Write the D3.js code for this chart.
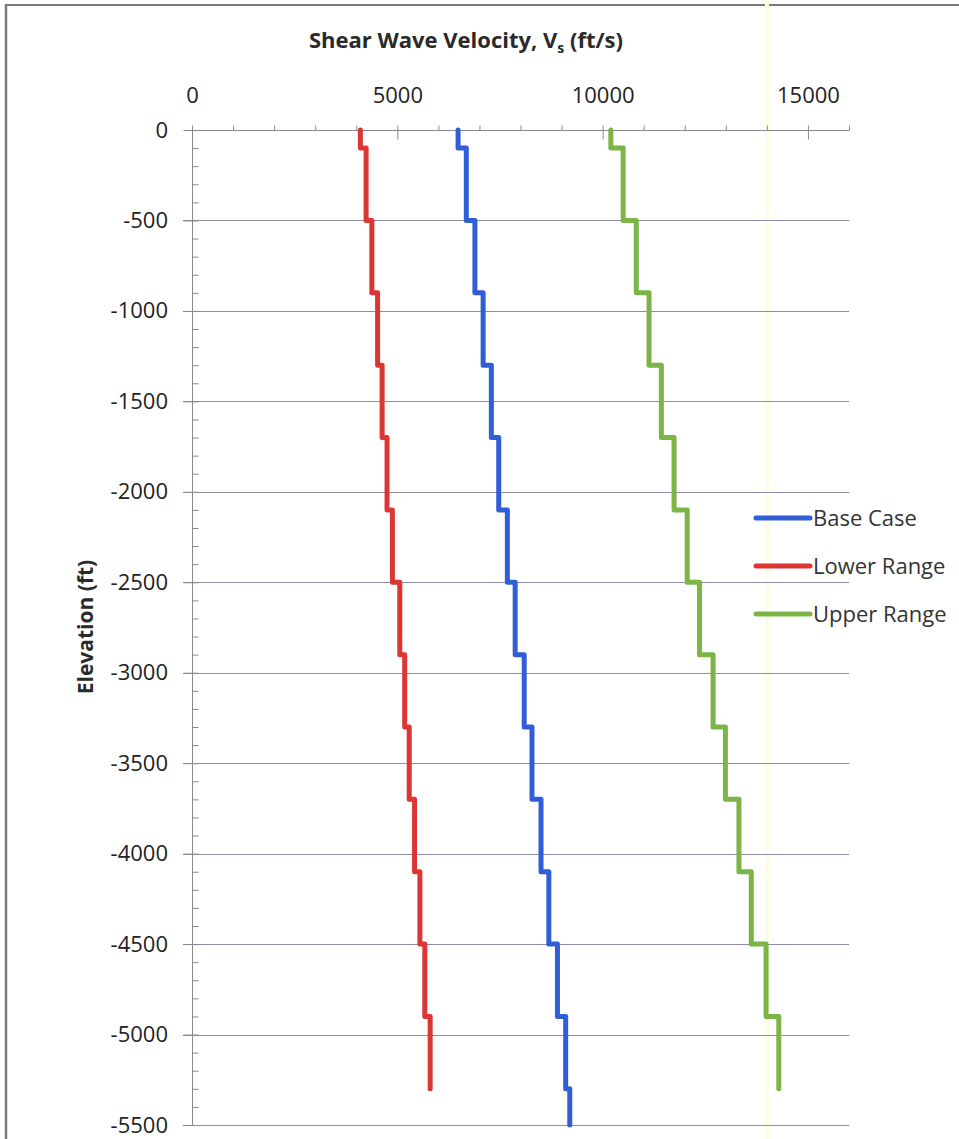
<!DOCTYPE html>
<html>
<head>
<meta charset="utf-8">
<script src="https://cdn.jsdelivr.net/npm/d3@7/dist/d3.min.js"></script>
<style>
  html, body { margin: 0; padding: 0; background: #fff; }
  svg { display: block; }
  text { font-family: "Open Sans", Lato, sans-serif; }
</style>
</head>
<body>
<svg id="chart" width="959" height="1139"></svg>
<script>
// ---- data ----
const layerTops = [0, -100, -500, -900, -1300, -1700, -2100, -2500, -2900, -3300, -3700, -4100, -4500, -4900, -5300];
const baseCase   = [6480, 6680, 6890, 7090, 7290, 7470, 7680, 7870, 8090, 8280, 8500, 8690, 8900, 9100, 9200];
const lowerRange = [4100, 4240, 4380, 4520, 4630, 4750, 4880, 5060, 5180, 5290, 5420, 5550, 5670, 5800];
const upperRange = [10200, 10500, 10820, 11130, 11430, 11740, 12060, 12360, 12690, 12990, 13320, 13620, 13980, 14290];
const baseBottom = -5500;
const rangeBottom = -5300;
const seriesNames = ["Base Case", "Lower Range", "Upper Range"];
const xTickLabels = [0, 5000, 10000, 15000];
const yTickLabels = [0, -500, -1000, -1500, -2000, -2500, -3000, -3500, -4000, -4500, -5000, -5500];

const svg = d3.select("#chart");

// frame of the scanned figure
svg.append("line").attr("x1", 5).attr("x2", 959).attr("y1", 5).attr("y2", 5)
  .attr("stroke", "#7a7a7a").attr("stroke-width", 2);
svg.append("line").attr("x1", 6).attr("x2", 6).attr("y1", 4).attr("y2", 1139)
  .attr("stroke", "#7a7a7a").attr("stroke-width", 2.5);
// faint yellow scan streak
svg.append("rect").attr("x", 765).attr("y", 0).attr("width", 4).attr("height", 1139)
  .attr("fill", "#fdfde6");

const x = d3.scaleLinear().domain([0, 16000]).range([192, 849]);
const y = d3.scaleLinear().domain([0, -5500]).range([130, 1125]);

// horizontal gridlines
svg.append("g").selectAll("line").data(yTickLabels.slice(1)).join("line")
  .attr("x1", 183).attr("x2", 849)
  .attr("y1", d => Math.round(y(d)) + 0.5).attr("y2", d => Math.round(y(d)) + 0.5)
  .attr("stroke", "#8e8ca8").attr("stroke-width", 1);

const axisColor = "#8a8a8a";

// top axis: minor ticks (every 1000) pointing outward
const topMinor = svg.append("g").attr("transform", "translate(0,130.5)")
  .call(d3.axisTop(x).tickValues(d3.range(0, 16001, 1000)).tickSize(5).tickFormat(""));
// top axis: major ticks crossing
const topMajor = svg.append("g").attr("transform", "translate(0,130.5)")
  .call(d3.axisBottom(x).tickValues(xTickLabels).tickSize(9).tickFormat(""));
// top axis labels
const topLabels = svg.append("g").attr("transform", "translate(0,130)")
  .call(d3.axisTop(x).tickValues(xTickLabels).tickSize(0).tickPadding(27).tickFormat(d3.format("d")));
topLabels.select(".domain").remove();

// left axis minor ticks (every 100 ft) pointing inward
const leftMinor = svg.append("g").attr("transform", "translate(192.5,0)")
  .call(d3.axisRight(y).tickValues(d3.range(0, -5501, -100)).tickSize(6).tickFormat(""));
const leftMajor = svg.append("g").attr("transform", "translate(192.5,0)")
  .call(d3.axisLeft(y).tickValues(yTickLabels).tickSize(9).tickFormat(""));
const leftLabels = svg.append("g").attr("transform", "translate(192,0)")
  .call(d3.axisLeft(y).tickValues(yTickLabels).tickSize(0).tickPadding(24).tickFormat(d => String(d)));
leftLabels.select(".domain").remove();

[topMinor, topMajor, leftMinor, leftMajor].forEach(g => {
  g.selectAll("line").attr("stroke", axisColor);
  g.select(".domain").attr("stroke", axisColor);
});
topMinor.select(".domain").attr("d", `M${x(0)},0H${x(16000)}`);
topMajor.select(".domain").remove();
leftMinor.select(".domain").attr("d", `M0,${y(0)}V${y(-5500)}`);
leftMajor.select(".domain").remove();

[topLabels, leftLabels].forEach(g => {
  g.selectAll("text").attr("font-size", 22).attr("fill", "#222")
    .style("font-family", "'Open Sans', sans-serif");
});

// step profiles
function profile(values, bottom) {
  const pts = [];
  values.forEach((v, i) => {
    const top = layerTops[i];
    const bot = i + 1 < values.length ? layerTops[i + 1] : bottom;
    pts.push([v, top], [v, bot]);
  });
  return pts;
}
const line = d3.line().x(d => x(d[0])).y(d => y(d[1]));
const series = [
  { name: seriesNames[0], pts: profile(baseCase, baseBottom), color: "#2f5ed6" },
  { name: seriesNames[1], pts: profile(lowerRange, rangeBottom), color: "#dd3434" },
  { name: seriesNames[2], pts: profile(upperRange, rangeBottom), color: "#7ab546" }
];
svg.append("g").selectAll("path").data(series).join("path")
  .attr("d", d => line(d.pts))
  .attr("fill", "none").attr("stroke", d => d.color)
  .attr("stroke-width", 5).attr("stroke-linejoin", "round").attr("stroke-linecap", "round");

// legend
const legend = svg.append("g");
const lg = legend.selectAll("g").data(series).join("g")
  .attr("transform", (d, i) => `translate(0,${518 + i * 48})`);
lg.append("line").attr("x1", 756).attr("x2", 810).attr("y1", 0).attr("y2", 0)
  .attr("stroke", d => d.color).attr("stroke-width", 5).attr("stroke-linecap", "round");
lg.append("text").attr("x", 813).attr("y", 0).attr("dy", "0.35em")
  .attr("font-size", 22).attr("fill", "#333").text(d => d.name);

// titles
const title = svg.append("text").attr("x", 466).attr("y", 48)
  .attr("text-anchor", "middle").attr("font-size", 22).attr("font-weight", "bold").attr("fill", "#2a2a2a");
title.append("tspan").text("Shear Wave Velocity, V");
title.append("tspan").attr("font-size", 14).attr("dy", 5).text("s");
title.append("tspan").attr("dy", -5).text(" (ft/s)");

svg.append("text").attr("transform", "translate(93,627) rotate(-90)")
  .attr("text-anchor", "middle").attr("font-size", 21).attr("font-weight", "bold").attr("fill", "#2a2a2a")
  .text("Elevation (ft)");
</script>
</body>
</html>
